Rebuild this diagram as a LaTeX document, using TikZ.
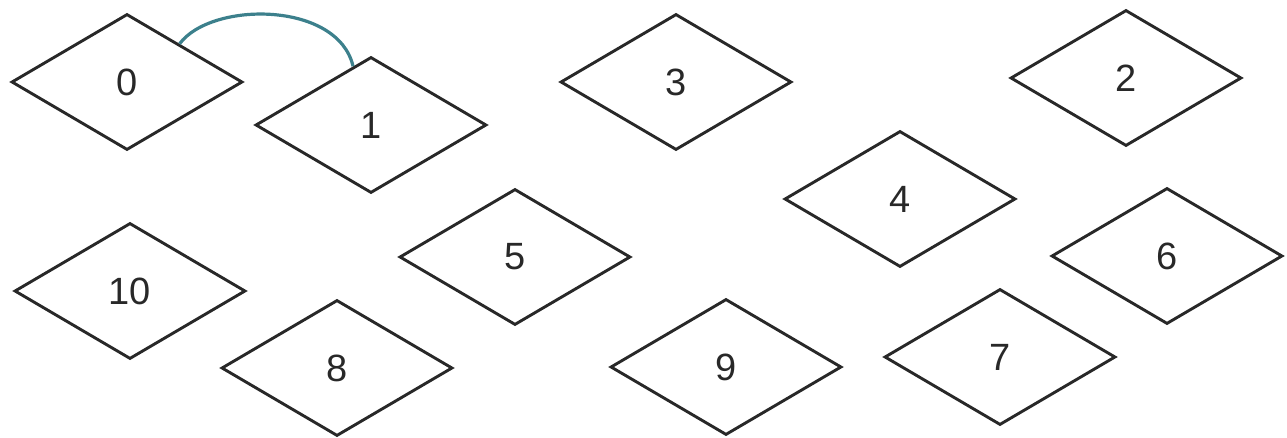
\documentclass[tikz,border=0pt]{standalone}
\usepackage{fontspec}
\setmainfont{Liberation Sans}
\usetikzlibrary{shapes.geometric}
\definecolor{edgegray}{RGB}{40,40,40}
\definecolor{teallink}{RGB}{60,128,140}
\tikzset{
  dia/.style={diamond, draw=edgegray, line width=2.9pt, minimum width=231pt,
    minimum height=136pt, inner sep=0pt, text=edgegray,
    font=\fontsize{38}{42}\selectfont},
  link/.style={draw=teallink, line width=3.2pt}
}
\begin{document}
\begin{tikzpicture}[x=1pt,y=-1pt]
\useasboundingbox (0,0) rectangle (1287,438);
\node[dia] (n0) at (127,82) {0};
\node[dia] (n1) at (371,125) {1};
\node[dia] (n3) at (676,82) {3};
\node[dia] (n2) at (1126,78) {2};
\node[dia] (n4) at (900,199) {4};
\node[dia] (n5) at (515,257) {5};
\node[dia] (n6) at (1167,256) {6};
\node[dia] (n10) at (130,291) {10};
\node[dia] (n8) at (337,368) {8};
\node[dia] (n9) at (726,367) {9};
\node[dia] (n7) at (1000,357) {7};
\draw[link] (n0.36) .. controls +(32,-43) and +(-15,-65) .. (n1.107);
\end{tikzpicture}
\end{document}
